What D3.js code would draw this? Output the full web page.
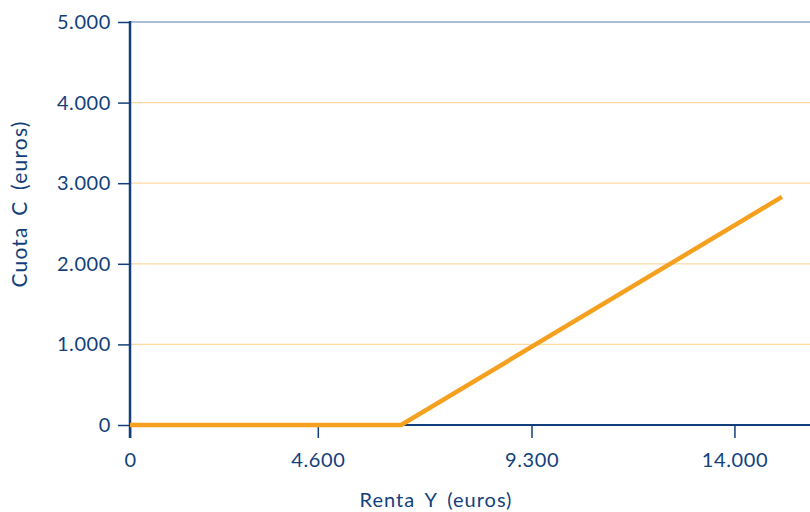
<!DOCTYPE html>
<html><head><meta charset="utf-8">
<script src="https://cdn.jsdelivr.net/npm/d3@7"></script>
<style>body{margin:0;background:#fff}svg{display:block}text{font-family:Lato,"Open Sans",sans-serif}</style>
</head><body><svg id="c" width="810" height="512"></svg>
<script>
const rentaX = [0, 6280, 15100];
const cuotaY = [0, 0, 2830];
const xTickValues = [0, 4350, 9300, 14000];
const xTickLabels = ["0", "4.600", "9.300", "14.000"];
const yTickValues = [0, 1000, 2000, 3000, 4000, 5000];
const yTickLabels = ["0", "1.000", "2.000", "3.000", "4.000", "5.000"];

const blue = "#123f7c", orange = "#f5a01f", grid = "#fdd9a4";
const svg = d3.select("#c");
const x = d3.scaleLinear().domain([0, 15750]).range([130, 810]);
const y = d3.scaleLinear().domain([0, 5000]).range([425, 22]);

// gridlines
svg.append("g").selectAll("line").data(yTickValues.filter(v => v > 0 && v < 5000)).join("line")
  .attr("x1", 130).attr("x2", 810).attr("y1", d => y(d)).attr("y2", d => y(d))
  .attr("stroke", grid).attr("stroke-width", 1.2);
svg.append("line").attr("x1", 130).attr("x2", 810).attr("y1", y(5000)).attr("y2", y(5000))
  .attr("stroke", "#5b7fae").attr("stroke-width", 1.2);

// y axis
const ya = svg.append("g").attr("transform", "translate(130,0)")
  .call(d3.axisLeft(y).tickValues(yTickValues).tickFormat((d, i) => yTickLabels[i]).tickSize(12).tickPadding(7));
ya.select(".domain").remove();
ya.selectAll(".tick line").attr("stroke", blue).attr("stroke-width", 1.5);
ya.selectAll("text").attr("fill", blue).attr("font-size", 20).attr("letter-spacing", 0.6);

// x axis
const xa = svg.append("g").attr("transform", "translate(0,425)")
  .call(d3.axisBottom(x).tickValues(xTickValues).tickFormat((d, i) => xTickLabels[i]).tickSize(13).tickPadding(15));
xa.select(".domain").remove();
xa.selectAll(".tick line").attr("stroke", blue).attr("stroke-width", 1.5);
xa.selectAll("text").attr("fill", blue).attr("font-size", 20).attr("letter-spacing", 0.6);

svg.append("line").attr("x1", 130).attr("x2", 810).attr("y1", 425).attr("y2", 425)
  .attr("stroke", blue).attr("stroke-width", 2);
svg.append("line").attr("x1", 130).attr("x2", 130).attr("y1", 21).attr("y2", 438)
  .attr("stroke", blue).attr("stroke-width", 2.5);

// data line
svg.append("path").datum(rentaX.map((v, i) => [v, cuotaY[i]]))
  .attr("d", d3.line().x(d => x(d[0])).y(d => y(d[1])))
  .attr("fill", "none").attr("stroke", orange).attr("stroke-width", 4.5);

// labels
svg.append("text").attr("x", 436).attr("y", 507).attr("text-anchor", "middle")
  .attr("fill", blue).attr("font-size", 20).attr("letter-spacing", 1).attr("word-spacing", 4)
  .text("Renta Y (euros)");
svg.append("text").attr("transform", "translate(27,204) rotate(-90)").attr("text-anchor", "middle")
  .attr("fill", blue).attr("font-size", 21).attr("letter-spacing", 1.2).attr("word-spacing", 4)
  .text("Cuota C (euros)");
</script></body></html>
